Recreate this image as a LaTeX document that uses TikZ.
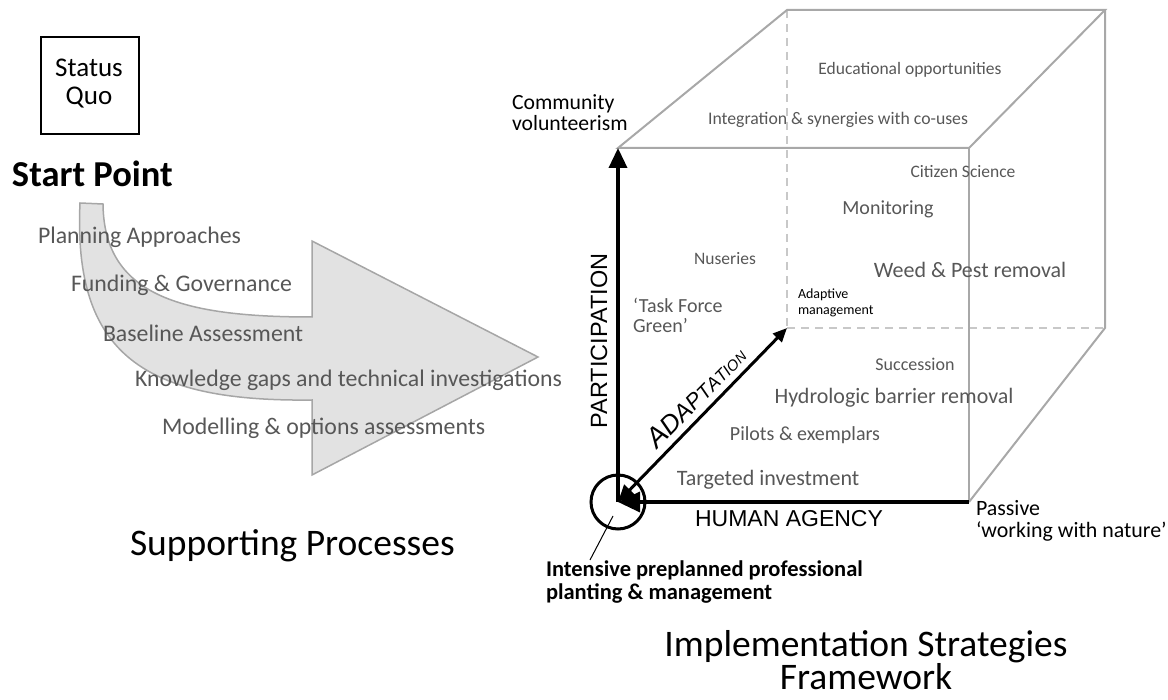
\documentclass[tikz,border=0pt]{standalone}
\usepackage{fontspec}
\setmainfont{Carlito}
\newfontfamily\axisfont{Liberation Sans}
\usetikzlibrary{arrows.meta}

\definecolor{txtgray}{HTML}{575757}
\definecolor{edgegray}{HTML}{A8A8A8}
\definecolor{dashgray}{HTML}{C8C8C8}
\definecolor{shapefill}{HTML}{E2E2E2}
\definecolor{shapeedge}{HTML}{A6A6A6}

% font size and baseline skip in pt (1pt = 1 output pixel here)
\newcommand\fsz[2]{\fontsize{#1pt}{#2pt}\selectfont}

\begin{document}
\begin{tikzpicture}[x=1pt,y=-1pt,
  txt/.style={inner sep=0pt, outer sep=0pt},
  greytxt/.style={txt, text=txtgray},
  listtxt/.style={greytxt, anchor=west, font=\fsz{23.8}{27}},
  heading/.style={txt, font=\fsz{37.5}{32}},
  cubeedge/.style={draw=edgegray, line width=2pt},
  hiddenedge/.style={draw=dashgray, line width=2.5pt, dash pattern=on 8pt off 6pt},
  axisline/.style={draw=black, line width=3.5pt},
  bigtip/.style={-{Triangle[length=20pt,width=18pt]}},
]
\useasboundingbox (0,0) rectangle (1168,700);

% ---------- start point ----------
\draw[line width=2pt] (41,37) rectangle (139,134);
\node[txt, align=center, font=\fsz{27}{28}] (statusquo) at (89,84) {Status\\Quo};
\node[txt, anchor=west, font=\bfseries\fsz{36.5}{36}] (startpoint) at (12,174) {Start Point};

% ---------- curved process arrow ----------
\draw[fill=shapefill, draw=shapeedge, line width=1.5pt, line join=miter]
  (80,203) -- (103,204)
  .. controls (104,295) and (180,317) .. (312,317)
  -- (312,241) -- (538,357) -- (312,475) -- (312,400)
  .. controls (145,402) and (73,355) .. (80,203) -- cycle;

\node[listtxt] (planning)  at (38,237)  {Planning Approaches};
\node[listtxt] (funding)   at (71,285)  {Funding \& Governance};
\node[listtxt] (baseline)  at (103,333) {Baseline Assessment};
\node[listtxt] (knowledge) at (135,380) {Knowledge gaps and technical investigations};
\node[listtxt] (modelling) at (162,428) {Modelling \& options assessments};

\node[heading, anchor=west] (supporting) at (130,546) {Supporting Processes};

% ---------- cube corners ----------
\coordinate (O)   at (618,502);
\coordinate (ftl) at (618,148);
\coordinate (ftr) at (969,148);
\coordinate (fbr) at (969,502);
\coordinate (btl) at (787,10);
\coordinate (btr) at (1105,10);
\coordinate (bbr) at (1105,328);
\coordinate (bbl) at (787,328);

% hidden edges
\draw[hiddenedge] (btl) -- (bbl);
\draw[hiddenedge] (bbl) -- (bbr);
% visible edges
\draw[cubeedge] (ftl) -- (btl) -- (btr) -- (ftr) -- cycle;
\draw[cubeedge] (btr) -- (bbr) -- (fbr);
\draw[draw=edgegray, line width=1.6pt] (ftr) -- (fbr);

% ---------- cube labels ----------
\node[greytxt, font=\fsz{17.5}{20}] (educ)  at (910,70)  {Educational opportunities};
\node[greytxt, font=\fsz{17.7}{20}] (integ) at (838,120) {Integration \& synergies with co-uses};
\node[greytxt, font=\fsz{17.5}{20}] (citizen) at (963,172) {Citizen Science};
\node[greytxt, font=\fsz{20}{24}] (monitor) at (888,209) {Monitoring};
\node[greytxt, font=\fsz{17.5}{20}] (nurs) at (725,259) {Nuseries};
\node[greytxt, font=\fsz{22}{26}] (weed) at (970,270) {Weed \& Pest removal};
\node[greytxt, anchor=west, align=left, font=\fsz{20}{20}] (taskforce) at (633,315) {`Task Force\\Green'};
\node[txt, anchor=west, align=left, font=\fsz{14}{16}] (adaptive) at (798,303) {Adaptive\\management};
\node[greytxt, font=\fsz{18}{22}] (succ) at (915,364) {Succession};
\node[greytxt, font=\fsz{22}{26}] (hydro) at (894,398) {Hydrologic barrier removal};
\node[greytxt, font=\fsz{20}{24}] (pilots) at (805,435) {Pilots \& exemplars};
\node[greytxt, font=\fsz{22}{26}] (targeted) at (768,480) {Targeted investment};

\node[txt, anchor=west, align=left, font=\fsz{21.7}{21}] (community) at (512,113) {Community\\volunteerism};
\node[txt, anchor=west, align=left, font=\fsz{21.9}{22}] (passive) at (976,521) {Passive\\`working with nature'};

% ---------- axes ----------
\draw[axisline, bigtip] (O) -- (ftl);
\draw[axisline, -{Triangle[length=22pt,width=20pt]}] (fbr) -- (O);
\draw[axisline, {Triangle[length=17pt,width=15pt]}-{Triangle[length=14pt,width=12pt]}, line width=3pt] (O) -- (bbl);
\node[circle, draw, line width=3pt, minimum size=54pt, inner sep=0pt] (ring) at (O) {};

\node[txt, rotate=90, font=\axisfont\fsz{23.5}{24}] (participation) at (599,341) {PARTICIPATION};
\node[txt, font=\axisfont\fsz{23}{24}] (agency) at (789,519) {HUMAN AGENCY};
\node[txt, anchor=base west, rotate=45.5, font=\axisfont\itshape] (adaptation) at (657,450)
  {\fsz{28}{28}A\fsz{26}{26}D\fsz{24}{24}A\fsz{22}{22}P\fsz{20}{20}T\fsz{18.5}{18.5}A\fsz{17}{17}T\fsz{16}{16}I\fsz{15}{15}O\fsz{14}{14}N};

% ---------- origin label ----------
\coordinate (ptrtop) at (613,516);
\coordinate (ptrend) at (590,560);
\draw[line width=1pt] (ptrtop) -- (ptrend);
\node[txt, anchor=north west, align=left, font=\bfseries\fsz{22.5}{23}] (intensive) at (546,561)
  {Intensive preplanned professional\\planting \& management};

\node[heading, align=center] (implementation) at (866,660) {Implementation Strategies\\Framework};
\end{tikzpicture}
\end{document}
